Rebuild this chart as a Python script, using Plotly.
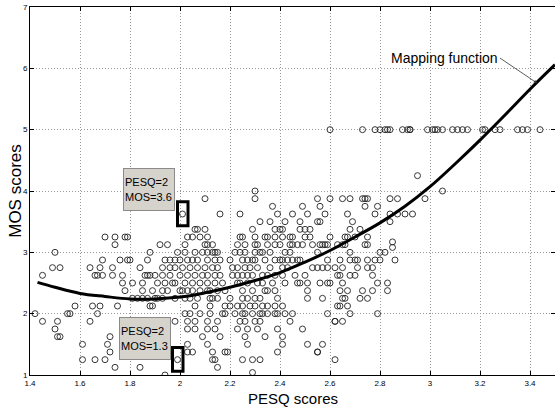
import plotly.graph_objects as go

# ---------------- data ----------------
# scatter of subjective MOS vs PESQ
pesq = [
    # MOS 5.0 row
    2.60, 2.73, 2.78, 2.80, 2.82, 2.83, 2.84, 2.89, 2.91, 2.92, 2.92, 2.99, 3.01, 3.02,
    3.03, 3.05, 3.09, 3.11, 3.13, 3.15, 3.21, 3.22, 3.26, 3.28, 3.35, 3.37, 3.39, 3.44,
    # isolated upper points
    2.95, 3.05, 2.98, 2.30,
    # 3.875
    2.10, 2.30, 2.55, 2.60, 2.65, 2.68, 2.73, 2.74, 2.75, 2.84, 2.87,
    # 3.75
    2.37, 2.49, 2.56, 2.74, 2.79,
    # 3.625
    2.16, 2.24, 2.39, 2.45, 2.51, 2.58, 2.67, 2.78, 2.84, 2.87, 2.90, 2.93,
    # 3.5
    2.32, 2.36, 2.42, 2.48, 2.55, 2.56, 2.69, 2.84,
    # 3.375
    2.06, 2.07, 2.10, 2.29, 2.38, 2.40, 2.41, 2.48, 2.50, 2.52, 2.68, 2.72,
    # 3.25
    1.70, 1.74, 1.78, 1.79, 2.03, 2.05, 2.08, 2.11, 2.24, 2.25, 2.30, 2.34, 2.35, 2.38,
    2.41, 2.44, 2.45, 2.50, 2.52, 2.60, 2.66, 2.67, 2.70, 2.75,
    # 3.125
    1.74, 1.92, 1.95, 2.02, 2.10, 2.11, 2.13, 2.23, 2.26, 2.30, 2.31, 2.35, 2.38, 2.40,
    2.44, 2.45, 2.47, 2.49, 2.53, 2.56, 2.57, 2.58, 2.59, 2.63, 2.65, 2.66, 2.74, 2.75,
    2.85, 2.85,
    # 3.0
    1.50, 1.88, 1.99, 2.02, 2.06, 2.09, 2.11, 2.13, 2.14, 2.15, 2.22, 2.24, 2.26, 2.30,
    2.32, 2.33, 2.36, 2.42, 2.44, 2.55, 2.68, 2.80, 2.82,
    # 2.875
    1.69, 1.76, 1.79, 1.80, 1.87, 1.94, 1.96, 1.98, 2.00, 2.03, 2.05, 2.07, 2.11, 2.14,
    2.16, 2.20, 2.25, 2.27, 2.29, 2.30, 2.34, 2.38, 2.40, 2.41, 2.43, 2.45, 2.47, 2.48,
    2.59, 2.64, 2.68, 2.70, 2.71, 2.75, 2.78, 2.80, 2.86,
    # 2.75
    1.49, 1.52, 1.64, 1.68, 1.73, 1.84, 1.93, 1.96, 1.98, 2.01, 2.04, 2.07, 2.10, 2.13,
    2.15, 2.21, 2.23, 2.26, 2.28, 2.31, 2.36, 2.41, 2.43, 2.53, 2.55, 2.57, 2.59, 2.62,
    2.65, 2.71, 2.75, 2.77,
    # 2.625
    1.45, 1.66, 1.67, 1.69, 1.73, 1.77, 1.86, 1.87, 1.88, 1.90, 1.93, 1.96, 2.00, 2.03,
    2.06, 2.09, 2.11, 2.14, 2.16, 2.21, 2.23, 2.25, 2.27, 2.29, 2.33, 2.35, 2.38, 2.41,
    2.46, 2.50, 2.63, 2.64, 2.68, 2.70, 2.77,
    # 2.5
    1.77, 1.81, 1.85, 1.91, 1.94, 1.97, 1.98, 2.02, 2.05, 2.08, 2.11, 2.14, 2.17, 2.23,
    2.24, 2.27, 2.31, 2.33, 2.37, 2.42, 2.47, 2.48, 2.51, 2.56, 2.59, 2.60, 2.65, 2.79,
    2.83,
    # 2.375
    1.78, 1.85, 1.89, 1.93, 1.95, 2.00, 2.01, 2.03, 2.05, 2.08, 2.11, 2.12, 2.15, 2.18,
    2.25, 2.29, 2.34, 2.35, 2.38, 2.51, 2.64, 2.67, 2.73, 2.77, 2.83,
    # 2.25
    1.81, 1.83, 1.85, 1.87, 1.90, 1.91, 1.93, 1.98, 2.02, 2.04, 2.07, 2.12, 2.13, 2.15,
    2.20, 2.25, 2.27, 2.30, 2.32, 2.39, 2.51, 2.57, 2.65, 2.66, 2.72, 2.75,
    # 2.125
    1.58, 1.65, 1.68, 1.75, 1.88, 1.89, 2.06, 2.12, 2.18, 2.20, 2.23, 2.25, 2.28, 2.30,
    2.33, 2.35, 2.38, 2.41, 2.63, 2.64, 2.67,
    # 2.0
    1.42, 1.55, 1.56, 1.67, 2.02, 2.04, 2.08, 2.12, 2.17, 2.18, 2.22, 2.25, 2.26, 2.29,
    2.32, 2.33, 2.35, 2.38, 2.39, 2.42, 2.45, 2.59, 2.68, 2.79,
    # 1.875
    1.45, 1.51, 1.64, 1.81, 1.98, 2.03, 2.06, 2.11, 2.15, 2.24, 2.26, 2.30, 2.32, 2.44,
    2.62, 2.62, 2.65,
    # 1.75
    1.50, 2.03, 2.06, 2.11, 2.14, 2.23, 2.27, 2.31, 2.39, 2.49,
    # 1.625
    1.51, 1.52, 1.72, 2.09, 2.16, 2.26, 2.34, 2.41,
    # 1.5
    1.61, 1.71, 2.03, 2.11, 2.27, 2.41, 2.51, 2.57,
    # 1.375
    1.72, 2.03, 2.05, 2.13, 2.18, 2.19, 2.39, 2.55, 2.55,
    # 1.25
    1.61, 1.66, 1.70, 2.13, 2.14, 2.25, 2.29, 2.32, 2.62,
    # 1.125
    1.74, 1.84, 2.15,
    # 1.0
    1.94, 2.29,
]
mos = [
    5.0, 5.0, 5.0, 5.0, 5.0, 5.0, 5.0, 5.0, 5.0, 5.0, 5.0, 5.0, 5.0, 5.0,
    5.0, 5.0, 5.0, 5.0, 5.0, 5.0, 5.0, 5.0, 5.0, 5.0, 5.0, 5.0, 5.0, 5.0,
    4.25, 4.0, 3.875, 4.0,
    3.875, 3.875, 3.875, 3.875, 3.875, 3.875, 3.875, 3.875, 3.875, 3.875, 3.875,
    3.75, 3.75, 3.75, 3.75, 3.75,
    3.625, 3.625, 3.625, 3.625, 3.625, 3.625, 3.625, 3.625, 3.625, 3.625, 3.625, 3.625,
    3.5, 3.5, 3.5, 3.5, 3.5, 3.5, 3.5, 3.5,
    3.375, 3.375, 3.375, 3.375, 3.375, 3.375, 3.375, 3.375, 3.375, 3.375, 3.375, 3.375,
    3.25, 3.25, 3.25, 3.25, 3.25, 3.25, 3.25, 3.25, 3.25, 3.25, 3.25, 3.25, 3.25, 3.25,
    3.25, 3.25, 3.25, 3.25, 3.25, 3.25, 3.25, 3.25, 3.25, 3.25,
    3.125, 3.125, 3.125, 3.125, 3.125, 3.125, 3.125, 3.125, 3.125, 3.125, 3.125, 3.125, 3.125, 3.125,
    3.125, 3.125, 3.125, 3.125, 3.125, 3.125, 3.125, 3.125, 3.125, 3.125, 3.125, 3.125, 3.125, 3.125,
    3.17, 3.08,
    3.0, 3.0, 3.0, 3.0, 3.0, 3.0, 3.0, 3.0, 3.0, 3.0, 3.0, 3.0, 3.0, 3.0,
    3.0, 3.0, 3.0, 3.0, 3.0, 3.0, 3.0, 3.0, 3.0,
    2.875, 2.875, 2.875, 2.875, 2.875, 2.875, 2.875, 2.875, 2.875, 2.875, 2.875, 2.875, 2.875, 2.875,
    2.875, 2.875, 2.875, 2.875, 2.875, 2.875, 2.875, 2.875, 2.875, 2.875, 2.875, 2.875, 2.875, 2.875,
    2.875, 2.875, 2.875, 2.875, 2.875, 2.875, 2.875, 2.875, 2.875,
    2.75, 2.75, 2.75, 2.75, 2.75, 2.75, 2.75, 2.75, 2.75, 2.75, 2.75, 2.75, 2.75, 2.75,
    2.75, 2.75, 2.75, 2.75, 2.75, 2.75, 2.75, 2.75, 2.75, 2.75, 2.75, 2.75, 2.75, 2.75,
    2.75, 2.75, 2.75, 2.75,
    2.625, 2.625, 2.625, 2.625, 2.625, 2.625, 2.625, 2.625, 2.625, 2.625, 2.625, 2.625, 2.625, 2.625,
    2.625, 2.625, 2.625, 2.625, 2.625, 2.625, 2.625, 2.625, 2.625, 2.625, 2.625, 2.625, 2.625, 2.625,
    2.625, 2.625, 2.625, 2.625, 2.625, 2.625, 2.625,
    2.5, 2.5, 2.5, 2.5, 2.5, 2.5, 2.5, 2.5, 2.5, 2.5, 2.5, 2.5, 2.5, 2.5,
    2.5, 2.5, 2.5, 2.5, 2.5, 2.5, 2.5, 2.5, 2.5, 2.5, 2.5, 2.5, 2.5, 2.5,
    2.5,
    2.375, 2.375, 2.375, 2.375, 2.375, 2.375, 2.375, 2.375, 2.375, 2.375, 2.375, 2.375, 2.375, 2.375,
    2.375, 2.375, 2.375, 2.375, 2.375, 2.375, 2.375, 2.375, 2.375, 2.375, 2.375,
    2.25, 2.25, 2.25, 2.25, 2.25, 2.25, 2.25, 2.25, 2.25, 2.25, 2.25, 2.25, 2.25, 2.25,
    2.25, 2.25, 2.25, 2.25, 2.25, 2.25, 2.25, 2.25, 2.25, 2.25, 2.25, 2.25,
    2.125, 2.125, 2.125, 2.125, 2.125, 2.125, 2.125, 2.125, 2.125, 2.125, 2.125, 2.125, 2.125, 2.125,
    2.125, 2.125, 2.125, 2.125, 2.125, 2.125, 2.125,
    2.0, 2.0, 2.0, 2.0, 2.0, 2.0, 2.0, 2.0, 2.0, 2.0, 2.0, 2.0, 2.0, 2.0,
    2.0, 2.0, 2.0, 2.0, 2.0, 2.0, 2.0, 2.0, 2.0, 2.0,
    1.875, 1.875, 1.875, 1.875, 1.875, 1.875, 1.875, 1.875, 1.875, 1.875, 1.875, 1.875, 1.875, 1.875,
    1.875, 1.875, 1.875,
    1.75, 1.75, 1.75, 1.75, 1.75, 1.75, 1.75, 1.75, 1.75, 1.75,
    1.625, 1.625, 1.625, 1.625, 1.625, 1.625, 1.625, 1.625,
    1.5, 1.5, 1.5, 1.5, 1.5, 1.5, 1.5, 1.5,
    1.375, 1.375, 1.375, 1.375, 1.375, 1.375, 1.375, 1.375, 1.375,
    1.25, 1.25, 1.25, 1.25, 1.25, 1.25, 1.25, 1.25, 1.25,
    1.125, 1.125, 1.125,
    1.0, 1.04,
]

# highlighted points (annotated)
hl_pesq = [2.01, 1.99]
hl_mos = [3.625, 1.25]
hl_labels = ["PESQ=2<br>MOS=3.6", "PESQ=2<br>MOS=1.3"]

# fitted mapping function
curve_x = [1.43, 1.5, 1.6, 1.7, 1.8, 1.9, 2.0, 2.1, 2.2, 2.3, 2.4, 2.5, 2.6, 2.7,
           2.8, 2.9, 3.0, 3.1, 3.2, 3.3, 3.4, 3.5]
curve_y = [2.51, 2.43, 2.33, 2.28, 2.24, 2.24, 2.27, 2.34, 2.43, 2.54, 2.67, 2.84, 3.03, 3.25,
           3.48, 3.75, 4.07, 4.44, 4.83, 5.24, 5.66, 6.06]

x_ticks = [1.4, 1.6, 1.8, 2.0, 2.2, 2.4, 2.6, 2.8, 3.0, 3.2, 3.4]
x_tick_text = ["1.4", "1.6", "1.8", "2", "2.2", "2.4", "2.6", "2.8", "3", "3.2", "3.4"]
y_ticks = [1, 2, 3, 4, 5, 6, 7]

FONT = "Liberation Sans, Arial, sans-serif"

fig = go.Figure()
fig.add_trace(go.Scatter(
    x=pesq, y=mos, mode="markers",
    marker=dict(symbol="circle-open", size=6, color="#222", line=dict(width=0.9)),
    showlegend=False, hoverinfo="skip"))
fig.add_trace(go.Scatter(
    x=hl_pesq, y=hl_mos, mode="markers",
    marker=dict(symbol="circle-open", size=6, color="#222", line=dict(width=0.9)),
    showlegend=False, hoverinfo="skip"))
fig.add_trace(go.Scatter(
    x=curve_x, y=curve_y, mode="lines", line=dict(color="black", width=3, shape="spline"),
    showlegend=False, hoverinfo="skip"))

# highlight rectangles around the annotated points
for px_, py_ in zip(hl_pesq, hl_mos):
    fig.add_shape(type="rect", xref="x", yref="y",
                  x0=px_ - 0.02, x1=px_ + 0.022, y0=py_ - 0.19, y1=py_ + 0.2,
                  line=dict(color="black", width=3), fillcolor="rgba(0,0,0,0)")

# label boxes
box_pos = [(1.874, 4.03), (1.858, 1.595)]
for (bx, by), txt in zip(box_pos, hl_labels):
    fig.add_annotation(x=bx, y=by, xref="x", yref="y", text=txt, showarrow=False,
                       font=dict(family=FONT, size=11, color="black"),
                       bgcolor="#d6d3cc", bordercolor="#8a8a8a", borderwidth=1,
                       borderpad=1, width=48, height=39, align="left")

# mapping function label with arrow
fig.add_annotation(x=3.428, y=5.76, xref="x", yref="y", text="Mapping function",
                   showarrow=True, ax=-37, ay=-25, xanchor="right",
                   arrowhead=2, arrowsize=0.8, arrowwidth=0.8, arrowcolor="#333",
                   font=dict(family=FONT, size=14, color="black"))

# axis titles
fig.add_annotation(x=0.5, y=-0.065, xref="paper", yref="paper", text="PESQ scores",
                   showarrow=False, xanchor="center", yanchor="middle",
                   font=dict(family=FONT, size=15, color="black"))
fig.add_annotation(x=-0.029, y=0.5, xref="paper", yref="paper", text="MOS scores",
                   showarrow=False, textangle=-90, xanchor="center", yanchor="middle",
                   font=dict(family=FONT, size=17, color="black"))

axis_common = dict(showline=True, linecolor="black", linewidth=1, mirror="ticks",
                   ticks="inside", ticklen=4, tickcolor="black",
                   showgrid=True, gridcolor="#999999", griddash="1px,2px", gridwidth=1,
                   zeroline=False, tickfont=dict(family=FONT, size=8, color="black"))

fig.update_xaxes(range=[1.4, 3.5], tickvals=x_ticks, ticktext=x_tick_text, **axis_common)
fig.update_yaxes(range=[1, 7], tickvals=y_ticks, **axis_common)

fig.update_layout(width=555, height=412, margin=dict(l=30, r=0, t=7, b=37),
                  plot_bgcolor="white", paper_bgcolor="white")

fig.write_html("out.html", config={"displayModeBar": False},
               post_script="document.body.style.margin='0';document.body.style.overflow='hidden';")
